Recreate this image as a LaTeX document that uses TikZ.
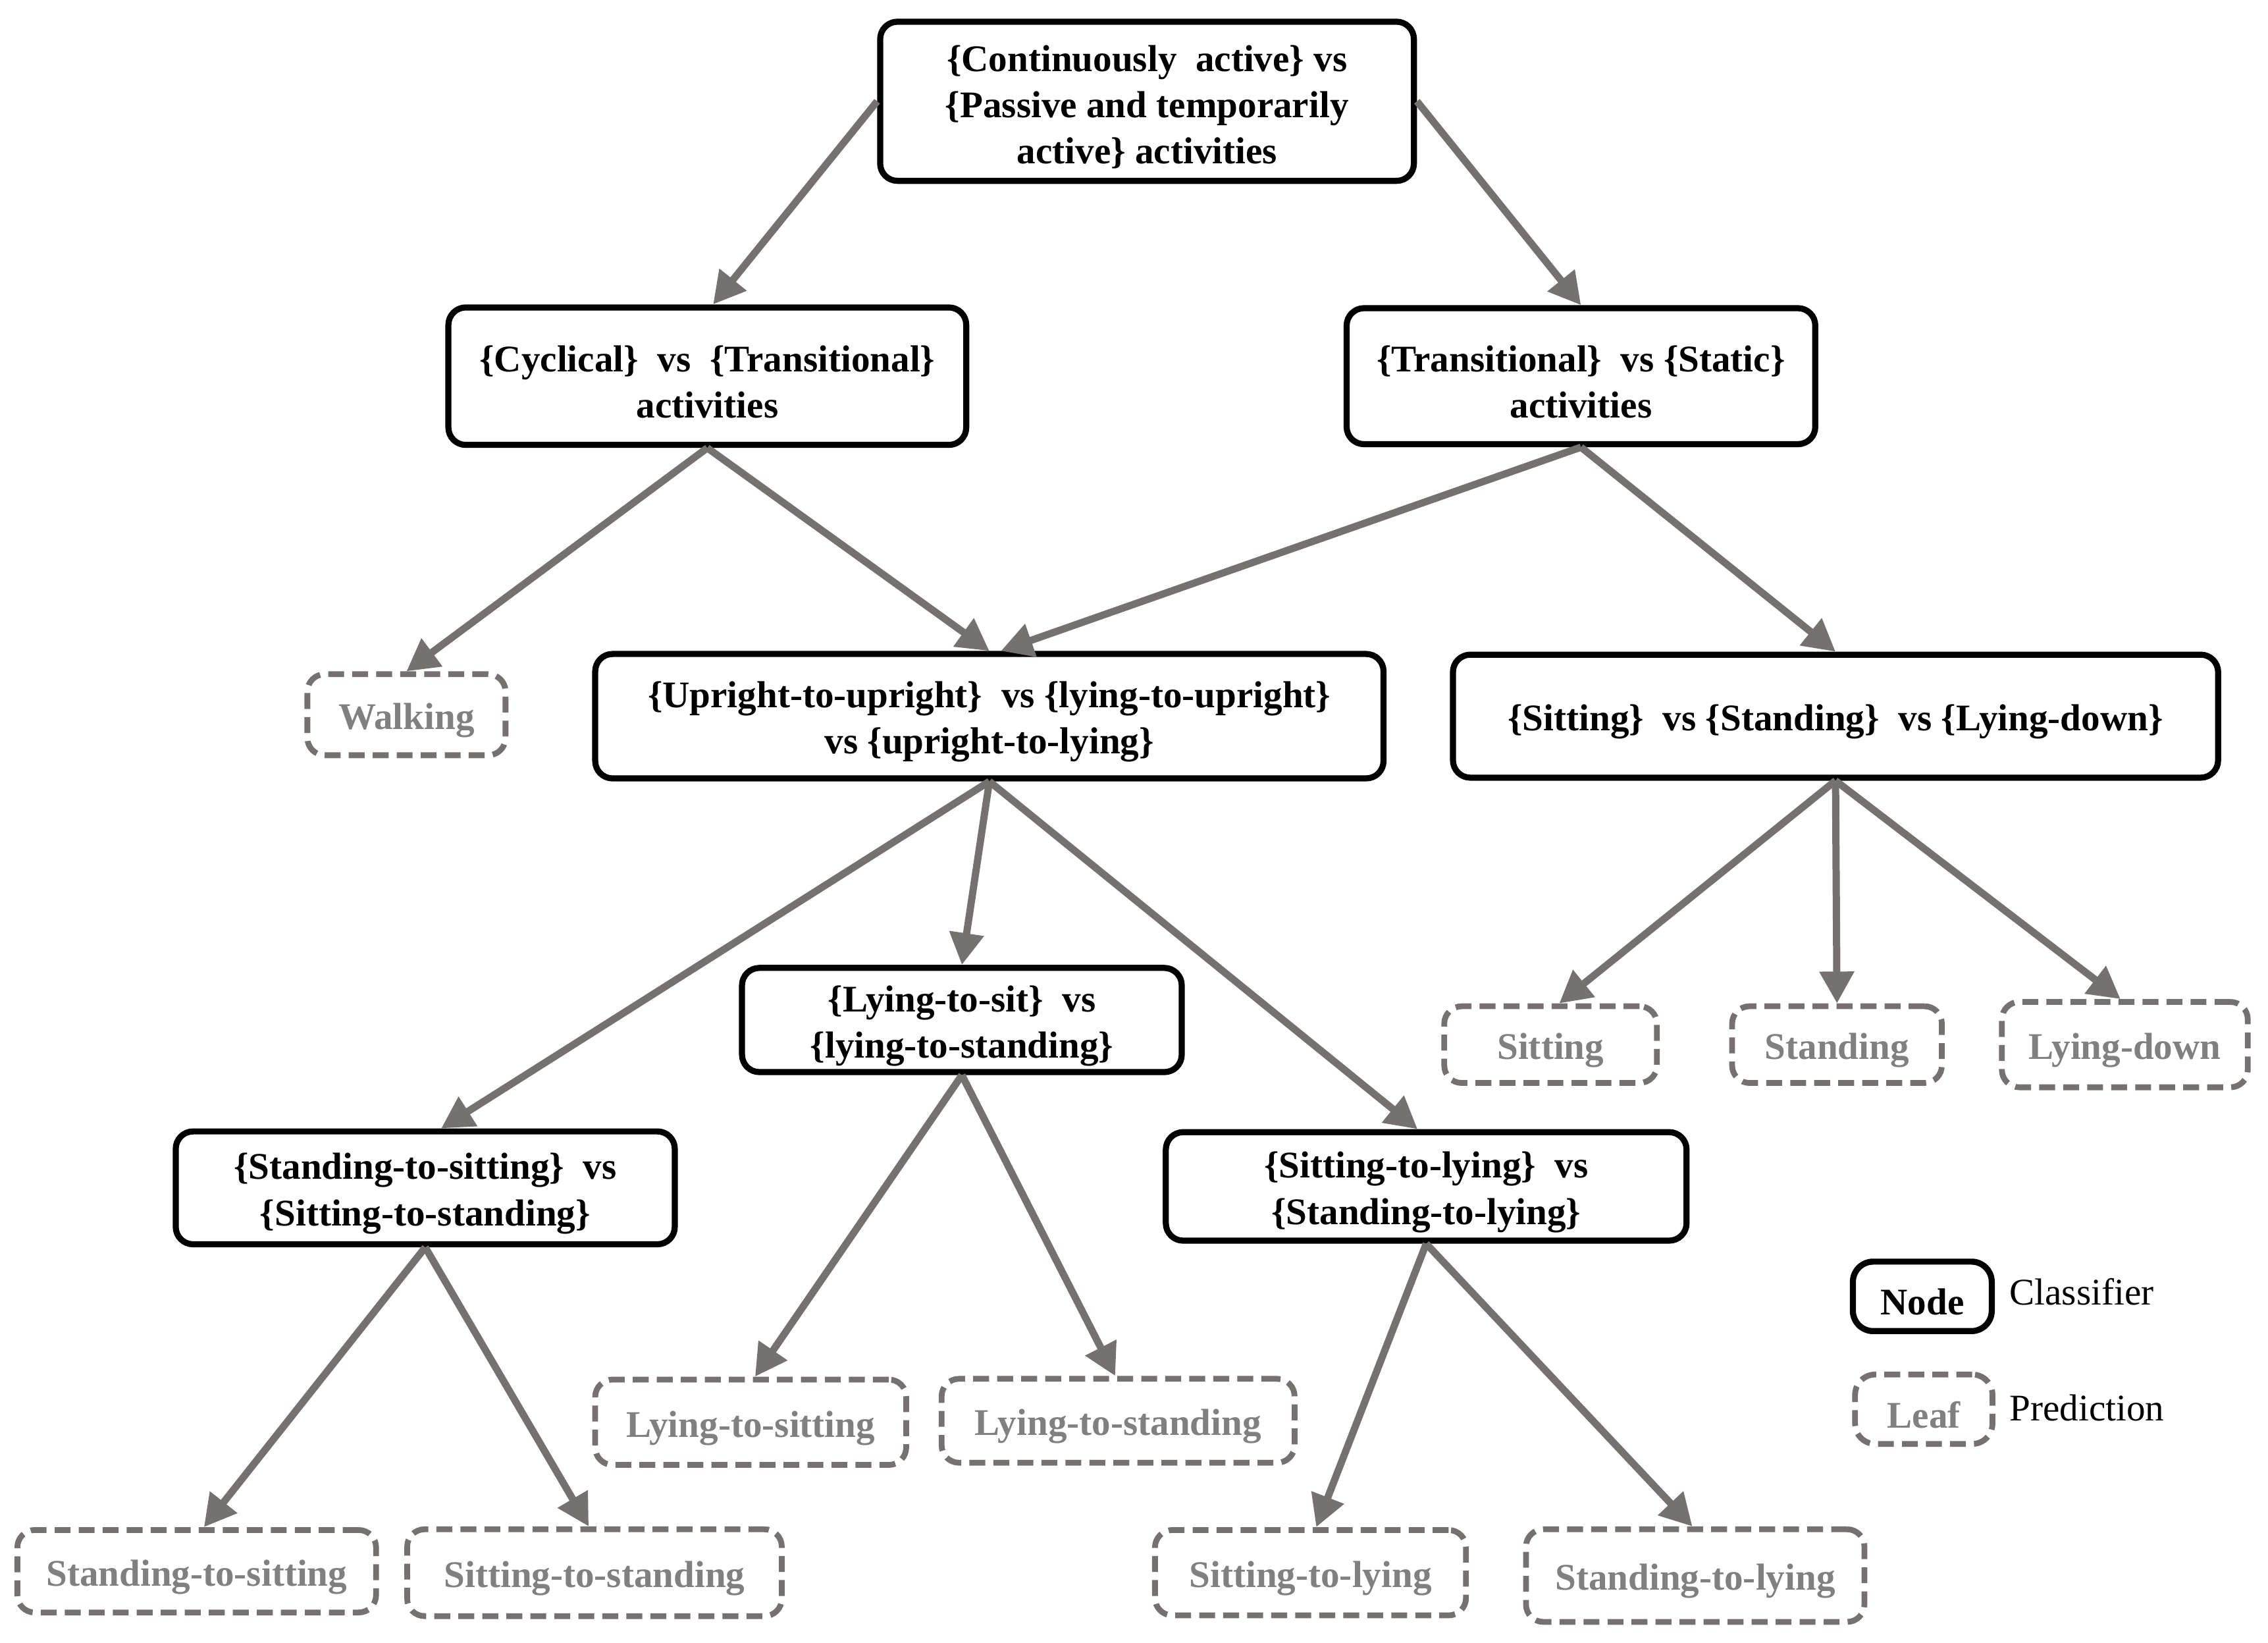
\documentclass[tikz,border=0pt]{standalone}
\usepackage{fontspec}
\setmainfont{Liberation Serif}
\usetikzlibrary{arrows.meta,calc}
\definecolor{lgray}{RGB}{118,113,113}
\definecolor{tgray}{RGB}{128,128,128}
\newcommand{\tupstrut}{\rule{0pt}{13pt}}
\begin{document}
\begin{tikzpicture}[x=0.5pt,y=-0.5pt,
  lowtext/.style={execute at begin node={\tupstrut}},
  cls/.style={draw=black,line width=2.1pt,rounded corners=6pt,fill=white,align=center,inner sep=0pt,lowtext,font=\fontsize{13}{16}\selectfont\bfseries},
  leaf/.style={draw=lgray,line width=2pt,dash pattern=on 5.5pt off 2.8pt,rounded corners=6pt,fill=white,align=center,inner sep=0pt,lowtext,text=tgray,font=\fontsize{13}{16}\selectfont\bfseries},
  arr/.style={draw=lgray,line width=2.5pt,-{Triangle[length=11pt,width=11.5pt]}}]
\useasboundingbox (0,0) rectangle (1568,1135.5);

% classifier nodes
\node[cls,minimum width=184.5pt,minimum height=55pt] (root) at (793,70) {\tupstrut\{Continuously~ active\} vs\\\{Passive and temporarily\\active\} activities};
\node[cls,minimum width=179pt,minimum height=47.5pt] (cyc) at (489,260) {\tupstrut\{Cyclical\}~ vs~ \{Transitional\}\\activities};
\node[cls,minimum width=162pt,minimum height=47pt] (ts) at (1093,260) {\tupstrut\{Transitional\}~ vs \{Static\}\\activities};
\node[cls,minimum width=272.5pt,minimum height=43pt] (up) at (684,495) {\tupstrut\{Upright-to-upright\}~ vs \{lying-to-upright\}\\vs \{upright-to-lying\}};
\node[cls,minimum width=264.5pt,minimum height=42.5pt] (ssl) at (1269,495) {\{Sitting\}~ vs \{Standing\}~ vs \{Lying-down\}};
\node[cls,minimum width=152pt,minimum height=36pt] (lts) at (665,705) {\tupstrut\{Lying-to-sit\}~ vs\\\{lying-to-standing\}};
\node[cls,minimum width=172.5pt,minimum height=39pt] (sts) at (294,821) {\tupstrut\{Standing-to-sitting\}~ vs\\\{Sitting-to-standing\}};
\node[cls,minimum width=180pt,minimum height=37.5pt] (stl) at (986,820) {\tupstrut\{Sitting-to-lying\}~ vs\\\{Standing-to-lying\}};

% leaves
\node[leaf,minimum width=68.5pt,minimum height=28pt] (walk) at (281,494) {Walking};
\node[leaf,minimum width=73.5pt,minimum height=26.5pt] (lsit) at (1072,722) {Sitting};
\node[leaf,minimum width=72.5pt,minimum height=26.5pt] (lstand) at (1270,722) {Standing};
\node[leaf,minimum width=85pt,minimum height=29.5pt] (llyd) at (1469,722) {Lying-down};
\node[leaf,minimum width=107.5pt,minimum height=29.5pt] (llts) at (519,983) {Lying-to-sitting};
\node[leaf,minimum width=122pt,minimum height=29pt] (llst) at (773,982) {Lying-to-standing};
\node[leaf,minimum width=124pt,minimum height=28.5pt] (lsts) at (136,1086) {Standing-to-sitting};
\node[leaf,minimum width=129.5pt,minimum height=30pt] (lsis) at (411,1087) {Sitting-to-standing};
\node[leaf,minimum width=107.5pt,minimum height=29.5pt] (lsil) at (906,1087) {Sitting-to-lying};
\node[leaf,minimum width=117pt,minimum height=32pt] (lstl) at (1172,1089) {Standing-to-lying};

% legend
\node[cls,minimum width=48pt,minimum height=24pt,rounded corners=7pt] (legnode) at (1329,896) {Node};
\node[leaf,minimum width=47.5pt,minimum height=24pt,rounded corners=7pt] (legleaf) at (1330,974) {Leaf};
\node[anchor=west,inner sep=0pt,font=\fontsize{13}{16}\selectfont] (legc) at (1389,893) {Classifier};
\node[anchor=west,inner sep=0pt,font=\fontsize{13}{16}\selectfont] (legp) at (1389,973) {Prediction};

% connectors
\draw[arr] (root.west) -- ($(cyc.north)+(4,0)$);
\draw[arr] (root.east) -- (ts.north);
\draw[arr] (cyc.south) -- (walk.north);
\draw[arr] (cyc.south) -- (up.north);
\draw[arr] (ts.south) -- ($(up.north)+(8,0)$);
\draw[arr] (ts.south) -- (ssl.north);
\draw[arr] (up.south) -- ($(sts.north)+(11,0)$);
\draw[arr] (up.south) -- (lts.north);
\draw[arr] (up.south) -- ($(stl.north)+(-6,0)$);
\draw[arr] (ssl.south) -- ($(lsit.north)+(6,0)$);
\draw[arr] (ssl.south) -- (lstand.north);
\draw[arr] (ssl.south) -- ($(llyd.north)+(-3,0)$);
\draw[arr] (lts.south) -- ($(llts.north)+(3,0)$);
\draw[arr] (lts.south) -- ($(llst.north)+(-2,0)$);
\draw[arr] (sts.south) -- ($(lsts.north)+(5,0)$);
\draw[arr] (sts.south) -- ($(lsis.north)+(-4,0)$);
\draw[arr] (stl.south) -- ($(lsil.north)+(4,0)$);
\draw[arr] (stl.south) -- ($(lstl.north)+(-2,0)$);
\end{tikzpicture}
\end{document}
